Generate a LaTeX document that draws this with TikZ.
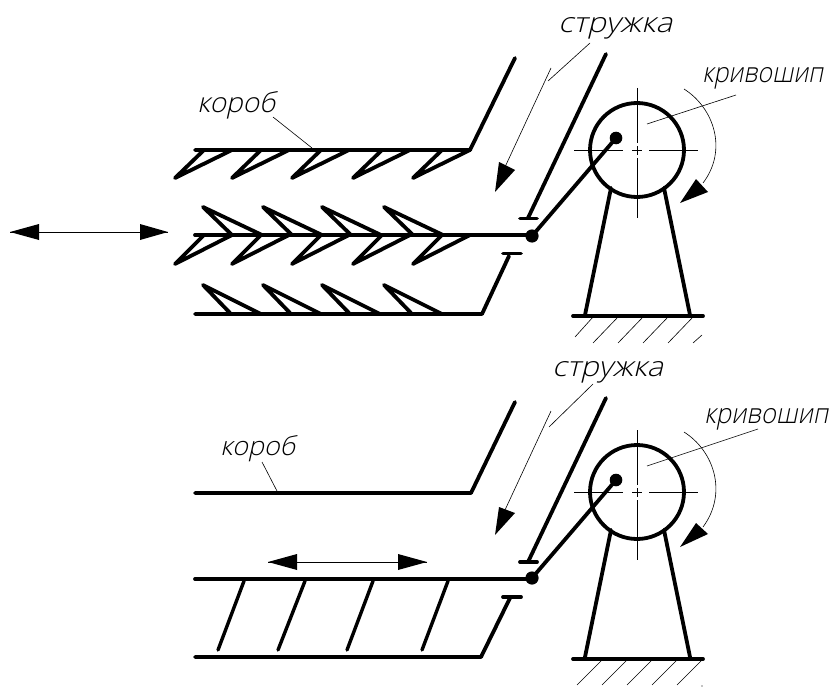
\documentclass[tikz,border=0pt]{standalone}
\usepackage{fontspec}
\newfontfamily\lblfont[FakeSlant=0.22]{Open Sans Light}
\tikzset{
  x=1pt,y=-1pt,
  body/.style={line width=3.8pt,line cap=round,line join=round,black},
  thinline/.style={line width=0.8pt,black},
  leader/.style={line width=0.6pt,black},
  head/.style={fill=black,draw=none},
  lab/.style={inner sep=0pt,anchor=base west,font=\lblfont,black},
}
\newcommand{\lbl}[5]{\node[lab] (#1) at (#2) {\resizebox{#3pt}{#4pt}{#5}};}
% crank unit: #1 = vertical shift
\newcommand{\crank}[1]{%
\begin{scope}[yshift=-#1pt]
  \coordinate (hub) at (637,150);
  \coordinate (pin) at (616,138);
  \coordinate (joint) at (532,236);
  \draw[body] (hub) circle (47);
  \draw[body] (joint) -- (pin);
  \fill (pin) circle (6.3);
  \fill (joint) circle (6.6);
  \draw[thinline] (574,150) -- (623,150) (632,150) -- (642,150) (649,150) -- (698,150);
  \draw[thinline] (637,88) -- (637,143) (637,146) -- (637,155) (637,158) -- (637,218);
  \draw[body] (611,188) -- (585,315) (664,188) -- (690,315);
\end{scope}}
\begin{document}
\begin{tikzpicture}
\useasboundingbox (0,0) rectangle (840,698);
\fill[white] (0,0) rectangle (840,698);
% ===== upper diagram =====
\crank{0}
\draw[body] (195,150) -- (470,150) -- (515,58);
\draw[body] (195,235) -- (532,235);
\draw[body] (195,314) -- (482,314) -- (509,256);
\draw[body] (503,253.5) -- (521,253.5);
\draw[body] (606,54) -- (528,218);
\draw[body] (520,218.5) -- (537,218.5);
\draw[body] (573,316) -- (703,316);
\foreach \t in {175,232,292,353,413}{
  \draw[body] (\t+29,150) -- (\t,178) -- (\t+57,150);
  \draw[body] (\t+29,235) -- (\t,264) -- (\t+57,235);
}
\foreach \t in {203,263,322,384}{
  \draw[body] (\t,207) -- (\t+29,235) -- (\t,207) -- (\t+59,235);
  \draw[body] (\t,285) -- (\t+28,314) -- (\t,285) -- (\t+58,314);
}
\foreach \a/\b in {593/575,618/593,643/618,668/643,693/668}{
  \ifnum\a=593 \draw[leader] (\a,317) -- (\b,337); \else \draw[leader] (\a,317) -- (\b,343); \fi
}
\draw[leader] (702,335) -- (693,343);
% double arrow
\coordinate (dl) at (10,232); \coordinate (dr) at (168,232);
\draw[thinline] (dl) -- (dr);
\fill[head] (dl) -- (39,224) -- (39,240) -- cycle;
\fill[head] (dr) -- (140,224) -- (140,240) -- cycle;
% chip arrow
\draw[leader] (551,68) -- (505,167);
\fill[head] (495,192) -- (499,162) -- (515,170) -- cycle;
\draw[leader] (590,43) -- (548,81);
% rotation
\draw[leader] (684,89) .. controls (714,108) and (728,150) .. (703,183);
\fill[head] (680,203) -- (696,179) -- (708,192) -- cycle;
\draw[leader] (736,95) -- (647,124);
\draw[leader] (273,117) -- (312,148);
\lbl{korA}{197,113}{78}{21}{короб}
\lbl{chipA}{558,33}{114}{15}{стружка}
\lbl{krivA}{702,83}{121}{15}{кривошип}
% ===== lower diagram =====
\crank{342}
\draw[body] (195,493) -- (471,493) -- (515,402);
\draw[body] (195,579) -- (532,579);
\draw[body] (195,657) -- (481,657) -- (510,598);
\draw[body] (503,597) -- (521,597);
\draw[body] (606,398) -- (528,562);
\draw[body] (520,562) -- (537,562);
\draw[body] (573,659) -- (703,659);
\foreach \a/\b in {244/218,305/278,373/347,448/422}{
  \draw[body,line width=3.4pt] (\a,581) -- (\b,650);
}
\foreach \a in {602,627,652,677,702}{
  \draw[leader] (\a,660) -- (\a-25,685);
}
\fill (702,686) circle (0.6);
\coordinate (el) at (268,562); \coordinate (er) at (427,562);
\draw[thinline] (el) -- (er);
\fill[head] (el) -- (297,554) -- (297,570) -- cycle;
\fill[head] (er) -- (398,554) -- (398,570) -- cycle;
\draw[leader] (551,411) -- (505,510);
\fill[head] (495,535) -- (499,507) -- (515,513) -- cycle;
\draw[leader] (593,384) -- (549,427);
\draw[leader] (684,432) .. controls (714,451) and (728,493) .. (703,527);
\fill[head] (680,547) -- (696,523) -- (708,534) -- cycle;
\draw[leader] (758,429) -- (647,466);
\draw[leader] (262,462) -- (277,491);
\lbl{korB}{220,455}{75}{20}{короб}
\lbl{chipB}{552,376}{111}{15}{стружка}
\lbl{krivB}{704,423}{124}{15}{кривошип}
\end{tikzpicture}
\end{document}
